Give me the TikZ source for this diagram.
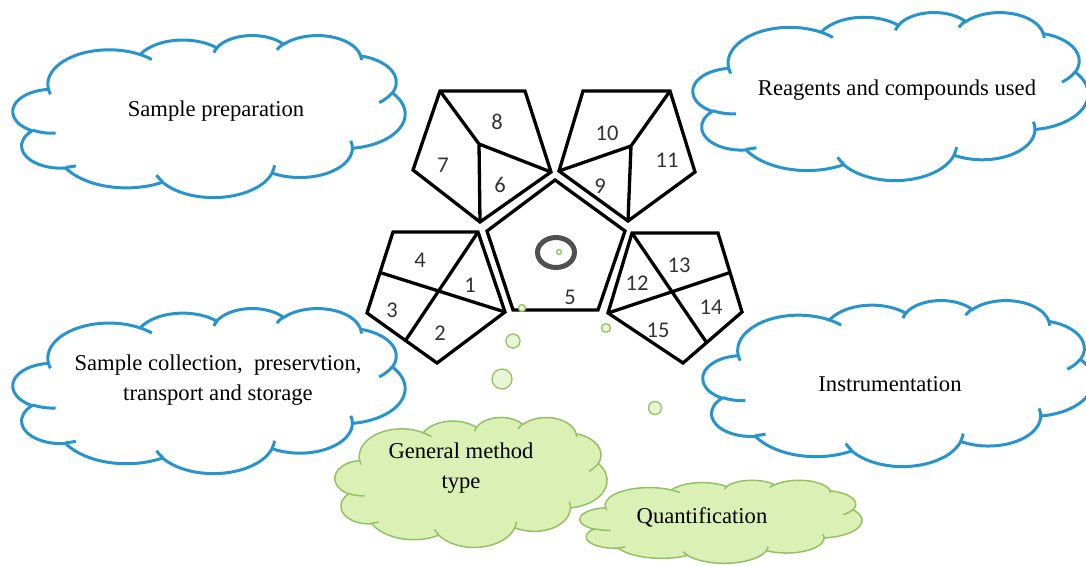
\documentclass[tikz,border=0pt]{standalone}
\usepackage{fontspec}
\setmainfont{Liberation Serif}
\newfontfamily\numfont{Carlito}
\usetikzlibrary{calc}
\definecolor{cblue}{RGB}{40,148,204}
\definecolor{gfill}{RGB}{218,240,180}
\definecolor{gline}{RGB}{150,192,100}
\definecolor{bfill}{RGB}{232,246,214}
\definecolor{ringc}{RGB}{80,80,80}
\makeatletter
\pgfmathdeclarefunction{vpar}{3}{%
  \begingroup
  \pgfmathparse{atan2(sin(#1)*#2, cos(#1)*#3) - #1}%
  \let\vp@d\pgfmathresult
  \pgfmathparse{#1 + \vp@d - 360*round(\vp@d/360)}%
  \pgfmath@smuggleone\pgfmathresult
  \endgroup}
\makeatother
% PowerPoint-style cloud in a box (x0,y0) of size W x H
\newcommand\drawcloud[5]{%
\begin{scope}[shift={(#1,#2)}, xscale=#3/432, yscale=#4/432]
\path[#5] (39.00,143.70)
 arc[start angle={vpar(-190.48748,67.53,91.90)}, end angle={vpar(-66.70695,67.53,91.90)}, x radius=67.53, y radius=91.90]
 arc[start angle={vpar(-144.10238,53.33,72.67)}, end angle={vpar(-54.15715,53.33,72.67)}, x radius=53.33, y radius=72.67]
 arc[start angle={vpar(-145.80792,43.65,59.45)}, end angle={vpar(-46.0849,43.65,59.45)}, x radius=43.65, y radius=59.45]
 arc[start angle={vpar(-130.98607,48.57,65.95)}, end angle={vpar(-13.74434,48.57,65.95)}, x radius=48.57, y radius=65.95]
 arc[start angle={vpar(-78.70888,53.33,72.73)}, end angle={vpar(30.31804,53.33,72.73)}, x radius=53.33, y radius=72.73]
 arc[start angle={vpar(-46.26725,67.75,92.20)}, end angle={vpar(84.00175,67.75,92.20)}, x radius=67.75, y radius=92.20]
 coordinate (cjunc)
 arc[start angle={vpar(0.62502,57.85,78.67)}, end angle={vpar(114.65835,57.85,78.67)}, x radius=57.85, y radius=78.67]
 arc[start angle={vpar(22.4516,67.52,92.15)}, end angle={vpar(137.62415,67.52,92.15)}, x radius=67.52, y radius=92.15]
 arc[start angle={vpar(66.24263,77.20,105.43)}, end angle={vpar(141.95365,77.20,105.43)}, x radius=77.20, y radius=105.43]
 arc[start angle={vpar(-274.94208,43.60,59.18)}, end angle={vpar(-128.20651,43.60,59.18)}, x radius=43.60, y radius=59.18]
 arc[start angle={vpar(-246.8285,43.45,59.45)}, end angle={vpar(-94.30965,43.45,59.45)}, x radius=43.45, y radius=59.45]
 -- cycle;
\path[#5, fill=none]
 (46.93,261.77) arc[start angle={vpar(86.742,43.45,59.45)}, end angle={vpar(113.1715,43.45,59.45)}, x radius=43.45, y radius=59.45]
 (69.28,348.99) arc[start angle={vpar(73.61047,43.60,59.18)}, end angle={vpar(85.05794,43.60,59.18)}, x radius=43.60, y radius=59.18]
 (164.78,390.90) arc[start angle={vpar(137.62415,67.52,92.15)}, end angle={vpar(151.70525,67.52,92.15)}, x radius=67.52, y radius=92.15]
 (288.27,347.51) arc[start angle={vpar(6.45327,67.52,92.15)}, end angle={vpar(22.45162,67.52,92.15)}, x radius=67.52, y radius=92.15]
 (cjunc) arc[start angle={vpar(0.62502,57.85,78.67)}, end angle={vpar(-19,57.85,78.67)}, x radius=57.85, y radius=78.67]
 (417.98,153.54) arc[start angle={vpar(30.31803,53.33,72.73)}, end angle={vpar(58.06953,53.33,72.73)}, x radius=53.33, y radius=72.73]
 (383.24,54.26) arc[start angle={vpar(-13.74433,48.57,65.95)}, end angle={vpar(1.11457,48.57,65.95)}, x radius=48.57, y radius=65.95]
 (290.78,39.52) arc[start angle={vpar(-149.18145,48.57,65.95)}, end angle={vpar(-130.98608,48.57,65.95)}, x radius=48.57, y radius=65.95]
 (221.41,47.20) arc[start angle={vpar(-163.49427,43.65,59.45)}, end angle={vpar(-145.80792,43.65,59.45)}, x radius=43.65, y radius=59.45]
 (140.00,51.92) arc[start angle={vpar(-66.70695,67.53,91.90)}, end angle={vpar(-54.3876,67.53,91.90)}, x radius=67.53, y radius=91.90]
 (41.27,157.89) arc[start angle={vpar(157.65435,67.53,91.90)}, end angle={vpar(169.51252,67.53,91.90)}, x radius=67.53, y radius=91.90];
\end{scope}}
\tikzset{
  bluecloud/.style={draw=cblue, fill=white, line width=3pt},
  greencloud/.style={draw=gline, fill=gfill, line width=1.5pt},
  ctext/.style={font=\fontsize{22.6}{30}\selectfont, align=center, text=black},
  pent/.style={draw=black, line width=3.3pt, line join=miter},
  num/.style={font=\numfont\fontsize{22.5}{22.5}\selectfont, text=black!80},
  bubble/.style={draw=gline, fill=bfill, line width=1.3pt},
}
\begin{document}
\begin{tikzpicture}[x=1pt, y=-1pt]
\useasboundingbox (0,0) rectangle (1086,565);
% clouds
\drawcloud{13}{35}{392}{162}{bluecloud}
\drawcloud{13}{308}{392}{165}{bluecloud}
\drawcloud{693}{12}{395}{168}{bluecloud}
\drawcloud{703}{300}{390}{166}{bluecloud}
\drawcloud{335}{417}{272}{130}{greencloud}
\drawcloud{580}{480}{282}{83}{greencloud}
\node[ctext] (prep) at (216,111) {Sample preparation};
\node[ctext] (coll) at (218,380) {Sample collection,\ \ preservtion,\\transport and storage};
\node[ctext] (reag) at (897,90) {Reagents and compounds used};
\node[ctext] (inst) at (890,384) {Instrumentation};
\node[ctext] (gen) at (461,468) {General method\\type};
\node[ctext] (quant) at (702,517) {Quantification};
% pentagon 6-7-8
\coordinate (A1) at (440,91); \coordinate (A2) at (525,91); \coordinate (A3) at (551,172);
\coordinate (A4) at (480,222); \coordinate (A5) at (413,170); \coordinate (Ai) at (479,144);
\draw[pent] (A1) -- (A2) -- (A3) -- (A4) -- (A5) -- cycle;
\draw[pent] (A1) -- (Ai) -- (A4) (Ai) -- (A3);
% pentagon 9-10-11
\coordinate (B1) at (583,91); \coordinate (B2) at (670,91); \coordinate (B3) at (695,172);
\coordinate (B4) at (628,221); \coordinate (B5) at (559,171); \coordinate (Bi) at (631,146);
\draw[pent] (B1) -- (B2) -- (B3) -- (B4) -- (B5) -- cycle;
\draw[pent] (B2) -- (Bi) -- (B4) (Bi) -- (B5);
% centre pentagon 5
\coordinate (C1) at (555,180); \coordinate (C2) at (625,231); \coordinate (C3) at (598,310);
\coordinate (C4) at (513,310); \coordinate (C5) at (487,231);
\draw[pent] (C1) -- (C2) -- (C3) -- (C4) -- (C5) -- cycle;
\draw[ringc, line width=5pt] (556,252.5) ellipse[x radius=18.5, y radius=15];
% pentagon 1-4
\coordinate (D1) at (393,232); \coordinate (D2) at (478,232); \coordinate (D3) at (505,312);
\coordinate (D4) at (437,363); \coordinate (D5) at (367,313);
\draw[pent] (D1) -- (D2) -- (D3) -- (D4) -- (D5) -- cycle;
\draw[pent] (D2) -- ($(D5)!0.55!(D4)$) ($(D1)!0.5!(D5)$) -- (D3);
% pentagon 12-15
\coordinate (E1) at (632,233); \coordinate (E2) at (718,233); \coordinate (E3) at (742,312);
\coordinate (E4) at (683,363); \coordinate (E5) at (608,313);
\draw[pent] (E1) -- (E2) -- (E3) -- (E4) -- (E5) -- cycle;
\draw[pent] (E1) -- ($(E3)!0.6!(E4)$) (E5) -- ($(E2)!0.5!(E3)$);
% numbers
\node[num] (n1) at (470,285) {1};
\node[num] (n2) at (440,333) {2};
\node[num] (n3) at (392,310) {3};
\node[num] (n4) at (420,260) {4};
\node[num] (n5) at (570,297) {5};
\node[num] (n6) at (500,185) {6};
\node[num] (n7) at (443,165) {7};
\node[num] (n8) at (497,122) {8};
\node[num] (n9) at (600,186) {9};
\node[num] (n10) at (607,133) {10};
\node[num] (n11) at (667,160) {11};
\node[num] (n12) at (637,283) {12};
\node[num] (n13) at (679,265) {13};
\node[num] (n14) at (711,307) {14};
\node[num] (n15) at (658,330) {15};
% bubbles
\draw[bubble] (559,252) circle[radius=2.5];
\draw[bubble] (522,308) circle[radius=3.5];
\draw[bubble] (606,328) circle[radius=4.5];
\draw[bubble] (513,341) circle[radius=7];
\draw[bubble] (502,379) circle[radius=10];
\draw[bubble] (655,408) circle[radius=6.5];
\end{tikzpicture}
\end{document}
